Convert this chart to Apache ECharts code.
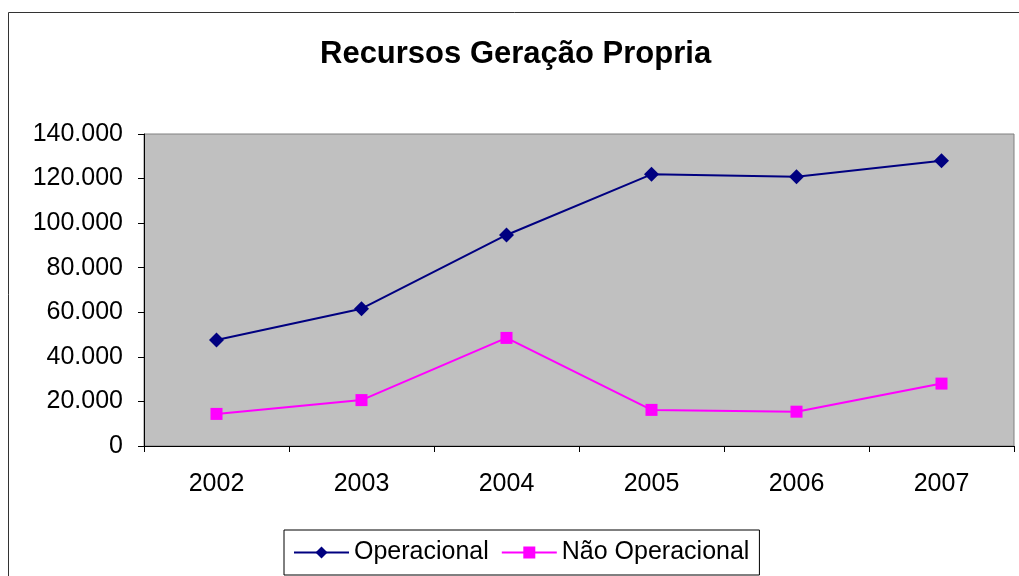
<!DOCTYPE html>
<html>
<head>
<meta charset="utf-8">
<script src="https://cdn.jsdelivr.net/npm/echarts@6/dist/echarts.min.js"></script>
<style>
  html, body { margin: 0; padding: 0; background: #fff; }
  #chart { width: 1019px; height: 576px; }
</style>
</head>
<body>
<div id="chart"></div>
<script>
const years = ['2002', '2003', '2004', '2005', '2006', '2007'];
const operacional = [47600, 61600, 94700, 121900, 120800, 128000];
const naoOperacional = [14400, 20600, 48500, 16200, 15400, 28000];

const fmt = (v) => String(v).replace(/\B(?=(\d{3})+(?!\d))/g, '.');

const chart = echarts.init(document.getElementById('chart'));
chart.setOption({
  animation: false,
  textStyle: { fontFamily: 'Liberation Sans, Arial, sans-serif' },
  title: {
    text: 'Recursos Geração Propria',
    left: 320,
    top: 39,
    padding: 0,
    textStyle: { fontSize: 31, fontWeight: 'bold', color: '#000', fontFamily: 'Liberation Sans, Arial, sans-serif' }
  },
  graphic: [{
    type: 'rect',
    shape: { x: 8.5, y: 12.5, width: 1200, height: 800 },
    style: { fill: 'none', stroke: '#333', lineWidth: 1 },
    silent: true
  }],
  grid: {
    left: 144, top: 134, right: 5, bottom: 130,
    show: true,
    backgroundColor: '#c0c0c0',
    borderColor: '#808080',
    borderWidth: 1
  },
  legend: {
    bottom: 1,
    left: 284,
    itemWidth: 55,
    itemHeight: 15,
    itemGap: 12,
    padding: [10, 10, 10, 9],
    borderColor: '#000',
    borderWidth: 1,
    textStyle: { fontSize: 25, color: '#000' },
    data: ['Operacional', 'Não Operacional']
  },
  xAxis: {
    type: 'category',
    data: years,
    boundaryGap: true,
    axisLine: { lineStyle: { color: '#000', width: 1 } },
    axisTick: { show: true, length: 6, lineStyle: { color: '#000' } },
    axisLabel: { fontSize: 25, color: '#000', margin: 26 }
  },
  yAxis: {
    type: 'value',
    min: 0,
    max: 140000,
    interval: 20000,
    splitLine: { show: false },
    axisLine: { show: true, lineStyle: { color: '#000', width: 1 } },
    axisTick: { show: true, length: 6, lineStyle: { color: '#000' } },
    axisLabel: { fontSize: 25, color: '#000', margin: 21, formatter: fmt }
  },
  series: [
    {
      name: 'Operacional',
      type: 'line',
      data: operacional,
      symbol: 'diamond',
      symbolSize: 15,
      itemStyle: { color: '#000080' },
      lineStyle: { color: '#000080', width: 2 }
    },
    {
      name: 'Não Operacional',
      type: 'line',
      data: naoOperacional,
      symbol: 'rect',
      symbolSize: 12,
      itemStyle: { color: '#ff00ff' },
      lineStyle: { color: '#ff00ff', width: 2 }
    }
  ]
});
</script>
</body>
</html>
